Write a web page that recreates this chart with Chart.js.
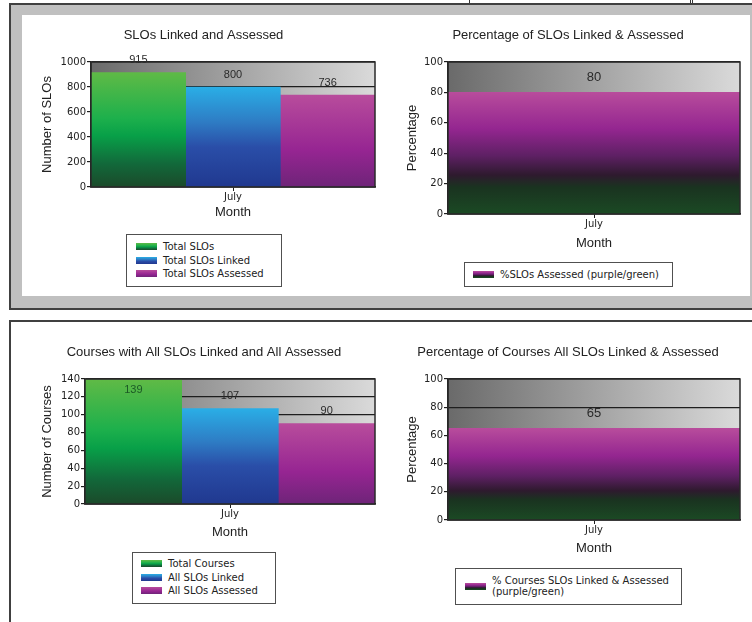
<!DOCTYPE html>
<html>
<head>
<meta charset="utf-8">
<script src="https://cdn.jsdelivr.net/npm/chart.js@4.4.1/dist/chart.umd.min.js"></script>
<style>
body{margin:0;width:752px;height:622px;overflow:hidden;background:#fff;position:relative;font-family:"Liberation Sans",Arial,sans-serif;}
.abs{position:absolute;}
.tab{position:absolute;top:-6px;height:9px;border:1.5px solid #333;background:#fff;}
.panel{position:absolute;left:9px;width:800px;border:2px solid #404040;}
.legend{position:absolute;border:1.5px solid #505050;background:#fff;font-family:"DejaVu Sans",sans-serif;font-size:10px;color:#222;box-sizing:border-box;}
.legend .row{display:flex;align-items:center;line-height:13.6px;}
.legend .sw{display:inline-block;width:21px;height:7px;margin-right:6px;flex:none;}
</style>
</head>
<body>
<div class="tab" style="left:469px;width:220px;"></div>
<div class="tab" style="left:692px;width:100px;"></div>
<div class="panel" style="top:3px;height:303px;background:#c0c0c0;"></div>
<div class="abs" style="left:22px;top:15px;width:728px;height:281px;background:#fff;"></div>
<div class="panel" style="top:320px;height:400px;background:#fff;"></div>

<canvas id="sloChart" class="abs" width="353" height="207" style="left:32px;top:15px;"></canvas>
<canvas id="sloPctChart" class="abs" width="354" height="237" style="left:396px;top:15px;"></canvas>
<canvas id="courseChart" class="abs" width="352" height="210" style="left:33px;top:332px;"></canvas>
<canvas id="coursePctChart" class="abs" width="354" height="226" style="left:396px;top:332px;"></canvas>

<div id="sloLegend" class="legend" style="left:126px;top:234px;width:156px;height:53px;padding:5px 0 0 9px;"></div>
<div id="sloPctLegend" class="legend" style="left:464px;top:262px;width:209px;height:25px;padding:5px 0 0 8px;"></div>
<div id="courseLegend" class="legend" style="left:132px;top:552px;width:144px;height:52px;padding:4px 0 0 8px;"></div>
<div id="coursePctLegend" class="legend" style="left:455px;top:568px;width:227px;height:37px;padding:6px 0 0 9px;"></div>

<script>
// data
var months = ['July'];
var sloSeries = ['Total SLOs', 'Total SLOs Linked', 'Total SLOs Assessed'];
var sloValues = [915, 800, 736];
var sloPctSeries = ['%SLOs Assessed (purple/green)'];
var sloPctValues = [80];
var courseSeries = ['Total Courses', 'All SLOs Linked', 'All SLOs Assessed'];
var courseValues = [139, 107, 90];
var coursePctSeries = ['% Courses SLOs Linked & Assessed (purple/green)'];
var coursePctValues = [65];
var sloTicks = [0, 1000, 200];
var courseTicks = [0, 140, 20];
var pctTicks = [0, 100, 20];

// gradient stops (top of bar -> bottom)
var greenStops = [[0, '#5fba46'], [0.4, '#1db04c'], [0.55, '#08a048'], [0.8, '#12683a'], [1, '#1b4a2a']];
var blueStops = [[0, '#2aaee6'], [0.35, '#2e7cc4'], [0.6, '#2a4ea8'], [1, '#20388f']];
var purpleStops = [[0, '#b84c9c'], [0.6, '#962592'], [1, '#6e2478']];
var pctStops = [[0, '#b84c9c'], [0.3, '#942690'], [0.52, '#5e2064'], [0.68, '#2e1a2e'], [0.78, '#1a3320'], [1, '#1b4a24']];

var labelFont = '"Liberation Sans", Arial, sans-serif';
var tickFont = 'DejaVu Sans';

function barFill(stops) {
	return function(c) {
		var chart = c.chart;
		if (!chart.chartArea || c.raw == null) return stops[0][1];
		var y = chart.scales.y;
		var g = chart.ctx.createLinearGradient(0, y.getPixelForValue(c.raw), 0, y.getPixelForValue(0));
		stops.forEach(function(s) { g.addColorStop(s[0], s[1]); });
		return g;
	};
}

function cssGrad(stops) {
	return 'linear-gradient(to bottom,' + stops.map(function(s) { return s[1] + ' ' + (s[0] * 100) + '%'; }).join(',') + ')';
}

// gray plot background, value labels, frame
var framePlugin = {
	id: 'frame',
	beforeDraw: function(chart) {
		var ctx = chart.ctx, a = chart.chartArea;
		var g = ctx.createLinearGradient(a.left, 0, a.right, 0);
		g.addColorStop(0, '#6a6a6a');
		g.addColorStop(1, '#dadada');
		ctx.save();
		ctx.fillStyle = g;
		ctx.fillRect(a.left, a.top, a.right - a.left, a.bottom - a.top);
		ctx.restore();
	},
	afterDatasetsDraw: function(chart, args, opts) {
		var ctx = chart.ctx, a = chart.chartArea;
		ctx.save();
		ctx.font = opts.size + 'px ' + labelFont;
		ctx.textAlign = 'center';
		ctx.textBaseline = 'middle';
		chart.data.datasets.forEach(function(ds, i) {
			chart.getDatasetMeta(i).data.forEach(function(bar, j) {
				var y = bar.y - opts.gap;
				var col = '#2a2a2a';
				if (y < a.top - 6) { y = bar.y + 10; col = '#1c5a26'; }
				ctx.fillStyle = col;
				ctx.fillText(ds.data[j], bar.x, y);
			});
		});
		ctx.restore();
	},
	afterDraw: function(chart) {
		var ctx = chart.ctx, a = chart.chartArea;
		ctx.save();
		ctx.strokeStyle = '#2a2a2a';
		ctx.lineWidth = 1.5;
		ctx.strokeRect(a.left, a.top, a.right - a.left, a.bottom - a.top);
		ctx.restore();
	}
};

function makeChart(id, title, yTitle, ticks, series, values, stopsList, geo) {
	var datasets = series.map(function(name, i) {
		return {
			label: name,
			data: [values[i]],
			stops: stopsList[i],
			backgroundColor: barFill(stopsList[i]),
			borderWidth: 0,
			categoryPercentage: 1,
			barPercentage: 1
		};
	});
	return new Chart(document.getElementById(id), {
		type: 'bar',
		data: { labels: months, datasets: datasets },
		plugins: [framePlugin],
		options: {
			responsive: false,
			animation: false,
			layout: { padding: { left: 0, right: 10, top: 0, bottom: 0 } },
			plugins: {
				legend: { display: false },
				tooltip: { enabled: false },
				title: {
					display: true, text: title, color: '#222',
					font: { family: labelFont, size: 13, weight: 'normal' },
					padding: { top: 12.8, bottom: 18.6 }
				},
				frame: { size: geo.labelSize, gap: geo.gap }
			},
			scales: {
				x: {
					ticks: { color: '#222', font: { family: tickFont, size: 10 }, padding: 0 },
					grid: { display: true, drawOnChartArea: false, offset: false, tickLength: 4, color: '#1e1e1e' },
					border: { color: '#1e1e1e', width: 1.5 },
					title: { display: true, text: 'Month', color: '#222', font: { family: labelFont, size: 13 }, padding: { top: 0, bottom: geo.xPad } },
					afterFit: function(s) { s.height = geo.xH; }
				},
				y: {
					min: ticks[0], max: ticks[1],
					ticks: {
						stepSize: ticks[2], color: '#222', font: { family: tickFont, size: 10 }, padding: 1,
						callback: function(v) { return String(v); }
					},
					grid: { color: '#1e1e1e', lineWidth: 1.2, tickLength: 4 },
					border: { color: '#1e1e1e', width: 1.5 },
					title: { display: true, text: yTitle, color: '#222', font: { family: labelFont, size: 13 }, padding: { top: geo.yPad, bottom: 0 } },
					afterFit: function(s) { s.width = geo.yW; }
				}
			}
		}
	});
}

function buildLegend(elId, chart, textWidth) {
	var box = document.getElementById(elId);
	chart.data.datasets.forEach(function(ds) {
		var row = document.createElement('div');
		row.className = 'row';
		var sw = document.createElement('span');
		sw.className = 'sw';
		sw.style.background = cssGrad(ds.stops);
		var tx = document.createElement('span');
		tx.textContent = ds.label;
		if (textWidth) { tx.style.width = textWidth + 'px'; tx.style.lineHeight = '11px'; }
		row.appendChild(sw);
		row.appendChild(tx);
		box.appendChild(row);
	});
}

var c1 = makeChart('sloChart', 'SLOs Linked and Assessed', 'Number of SLOs', sloTicks,
	sloSeries, sloValues, [greenStops, blueStops, purpleStops],
	{ yW: 59, yPad: 8, xH: 35, xPad: 1.7, labelSize: 11, gap: 12.5 });
var c2 = makeChart('sloPctChart', 'Percentage of SLOs Linked & Assessed', 'Percentage', pctTicks,
	sloPctSeries, sloPctValues, [pctStops],
	{ yW: 52, yPad: 8.2, xH: 38, xPad: 1.2, labelSize: 13, gap: 15 });
var c3 = makeChart('courseChart', 'Courses with All SLOs Linked and All Assessed', 'Number of Courses', courseTicks,
	courseSeries, courseValues, [greenStops, blueStops, purpleStops],
	{ yW: 52, yPad: 6.9, xH: 38, xPad: 1.5, labelSize: 11, gap: 12.5 });
var c4 = makeChart('coursePctChart', 'Percentage of Courses All SLOs Linked & Assessed', 'Percentage', pctTicks,
	coursePctSeries, coursePctValues, [pctStops],
	{ yW: 52, yPad: 8.2, xH: 38, xPad: 1.5, labelSize: 13, gap: 15 });

buildLegend('sloLegend', c1);
buildLegend('sloPctLegend', c2);
buildLegend('courseLegend', c3);
buildLegend('coursePctLegend', c4, 185);
</script>
</body>
</html>
